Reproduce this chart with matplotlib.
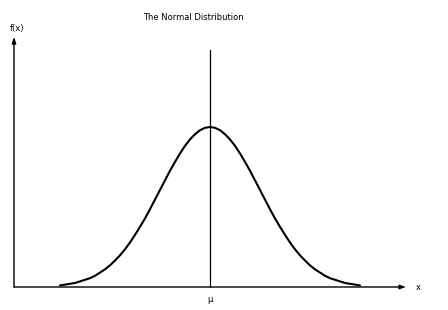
import numpy as np
import matplotlib
matplotlib.use('Agg')
from matplotlib import pyplot as plt

# curve, x in units of sigma around the mean (right half, mirrored)
x_half = [0.0, 0.1, 0.2, 0.3, 0.4, 0.5, 0.6, 0.7, 0.8, 0.9, 1.0,
          1.1, 1.2, 1.3, 1.4, 1.5, 1.6, 1.7, 1.8, 1.9, 2.0,
          2.1, 2.2, 2.3, 2.4, 2.5, 2.6, 2.7, 2.8, 2.9, 3.0]
f_half = [0.399, 0.397, 0.391, 0.381, 0.368, 0.352, 0.333, 0.312, 0.290, 0.266, 0.242,
          0.218, 0.194, 0.171, 0.150, 0.130, 0.111, 0.094, 0.079, 0.066, 0.054,
          0.044, 0.036, 0.028, 0.022, 0.018, 0.014, 0.010, 0.008, 0.006, 0.004]

title = 'The Normal Distribution'
y_label = 'f(x)'
x_label = 'x'
mean_label = 'μ'

x_vals = [-v for v in x_half[:0:-1]] + x_half
f_vals = f_half[:0:-1] + f_half

fig = plt.figure(figsize=(4.48, 3.10), dpi=100)
ax = fig.add_axes([0, 0, 1, 1])
ax.axis('off')

# pixel scale: 50 px per sigma, 160 px for the peak height
px = 1 / 50.0
py = 0.399 / 160.0
ax.set_xlim(-210 * px, (448 - 210) * px)
ax.set_ylim(-(310 - 287) * py, 287 * py)

x_left = -196 * px
x_right = 196 * px
y_top = 250 * py

# axes with arrow heads
ax.annotate('', xy=(x_left, y_top), xytext=(x_left, 0),
            arrowprops=dict(arrowstyle='-|>,head_length=0.35,head_width=0.12', lw=1.0, color='black',
                            shrinkA=0, shrinkB=0))
ax.annotate('', xy=(x_right, 0), xytext=(x_left, 0),
            arrowprops=dict(arrowstyle='-|>,head_length=0.35,head_width=0.12', lw=1.0, color='black',
                            shrinkA=0, shrinkB=0))

# mean line
ax.plot([0, 0], [0, 237 * py], color='black', lw=0.9)

# the curve
ax.plot(x_vals, f_vals, color='black', lw=1.5, solid_capstyle='round', solid_joinstyle='round')

ax.text(-17 * px, 269 * py, title, fontsize=6, ha='center', va='center')
ax.text(-193 * px, 259 * py, y_label, fontsize=6, ha='center', va='center')
ax.text(208 * px, -1 * py, x_label, fontsize=6, ha='center', va='center')
ax.text(0, -13 * py, mean_label, fontsize=6, ha='center', va='center')

fig.savefig('out.png', dpi=100)
